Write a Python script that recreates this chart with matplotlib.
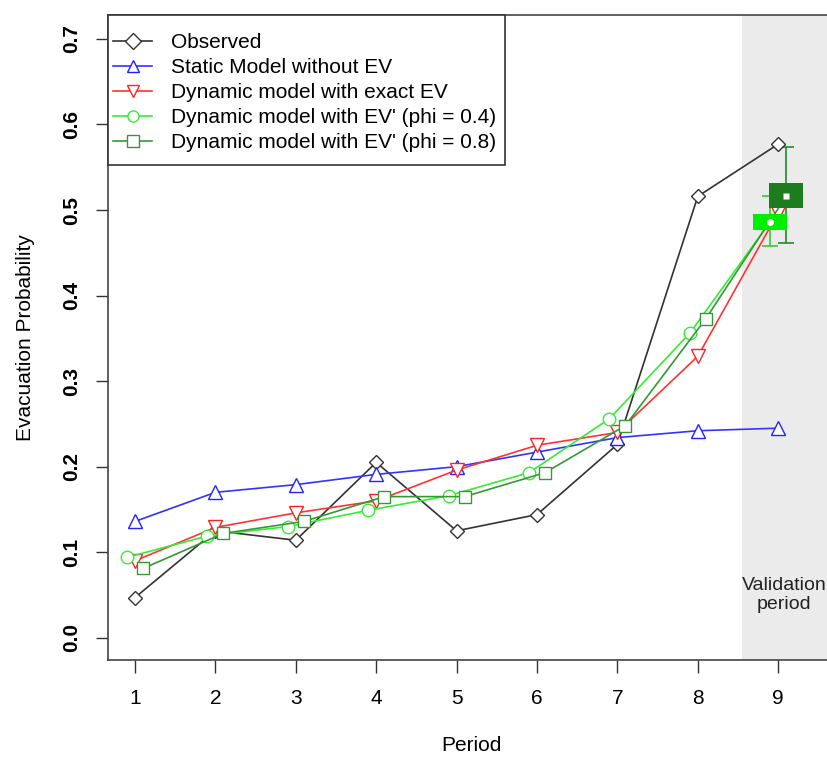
import matplotlib
matplotlib.use("Agg")
import matplotlib.pyplot as plt
from matplotlib.patches import Rectangle
import numpy as np

plt.rcParams['font.family'] = ['Liberation Sans', 'DejaVu Sans']

# data
periods = np.arange(1, 10)
observed = [0.047, 0.125, 0.114, 0.205, 0.125, 0.144, 0.226, 0.516, 0.577]
static_ev = [0.136, 0.170, 0.179, 0.191, 0.200, 0.217, 0.234, 0.242, 0.245]
exact_ev = [0.090, 0.129, 0.146, 0.160, 0.196, 0.225, 0.240, 0.329, 0.497]
phi04 = [0.094, 0.119, 0.130, 0.149, 0.166, 0.193, 0.256, 0.356, 0.486]
phi08 = [0.081, 0.122, 0.136, 0.165, 0.165, 0.193, 0.248, 0.373, 0.516]

# validation period: error bar ends and box ends
phi04_err = (0.458, 0.516)
phi04_box = (0.477, 0.495)
phi08_err = (0.461, 0.574)
phi08_box = (0.502, 0.532)

offset = 0.1
box_w = 0.42

fig = plt.figure(figsize=(8.27, 7.57), dpi=100)
ax = fig.add_axes([108 / 827, 1 - 660 / 757, 1 - 108 / 827 + 0.01, (660 - 15) / 757])

ax.axvspan(8.55, 10, color='#ebebeb', zorder=0, lw=0)

ms = 10
lw = 1.2
ax.plot(periods, observed, color='#333333', lw=lw, marker='D', ms=ms * 0.75, mfc='white', mec='#333333', label='Observed', zorder=3)
ax.plot(periods, static_ev, color='#3333ff', lw=lw, marker='^', ms=ms, mfc='white', mec='#2222ff', label='Static Model without EV', zorder=3)
ax.plot(periods, exact_ev, color='#ff3333', lw=lw, marker='v', ms=ms, mfc='white', mec='#ff2222', label='Dynamic model with exact EV', zorder=3)
ax.plot(periods - offset, phi04, color='#33ee33', lw=lw, marker='o', ms=ms * 0.9, mfc='white', mec='#33ee33', label="Dynamic model with EV' (phi = 0.4)", zorder=3)
ax.plot(periods + offset, phi08, color='#339933', lw=lw, marker='s', ms=ms * 0.8, mfc='white', mec='#339933', label="Dynamic model with EV' (phi = 0.8)", zorder=3)

# validation boxes with error bars
x4 = periods[-1] - offset
x8 = periods[-1] + offset
ax.errorbar([x4], [phi04[-1]], yerr=[[phi04[-1] - phi04_err[0]], [phi04_err[1] - phi04[-1]]],
            fmt='none', ecolor='#33cc33', elinewidth=1.2, capsize=6, capthick=1.2, zorder=2)
ax.errorbar([x8], [phi08[-1]], yerr=[[phi08[-1] - phi08_err[0]], [phi08_err[1] - phi08[-1]]],
            fmt='none', ecolor='#228b22', elinewidth=1.2, capsize=6, capthick=1.2, zorder=2)
ax.add_patch(Rectangle((x4 - box_w / 2, phi04_box[0]), box_w, phi04_box[1] - phi04_box[0],
                       facecolor='#00ee00', edgecolor='none', zorder=4))
ax.add_patch(Rectangle((x8 - box_w / 2, phi08_box[0]), box_w, phi08_box[1] - phi08_box[0],
                       facecolor='#1e7b1e', edgecolor='none', zorder=4))
ax.plot([x4], [phi04[-1]], 'o', ms=5, color='white', mec='none', zorder=5)
ax.plot([x8], [phi08[-1]], 's', ms=5, color='white', mec='none', zorder=5)

ax.text(9.07, 0.05, 'Validation\nperiod', ha='center', va='center', fontsize=14, color='#222222', linespacing=1.2)

ax.set_xlim(0.664, 9.71)
ax.set_ylim(-0.026, 0.728)
ax.set_xticks(periods)
ax.set_yticks(np.arange(0, 0.71, 0.1))
ax.set_yticklabels(['%.1f' % v for v in np.arange(0, 0.71, 0.1)], rotation=90, va='center', fontweight='bold')
ax.tick_params(axis='both', labelsize=15, length=9, width=1, color='#333333', pad=10)
ax.tick_params(axis='x', pad=12)
for s in ['left', 'bottom', 'top']:
    ax.spines[s].set_color('#444444')
    ax.spines[s].set_linewidth(1.2)
ax.spines['right'].set_visible(False)

ax.set_xlabel('Period', fontsize=15, labelpad=20)
ax.set_ylabel('Evacuation Probability', fontsize=15, labelpad=20)

# legend box drawn separately so the padding can differ horizontally / vertically
ax_w_px = ax.get_position().width * 827
ax_h_px = ax.get_position().height * 757
box_h = 150 / ax_h_px
ax.add_patch(Rectangle((0, 1 - box_h), 397 / ax_w_px, box_h, transform=ax.transAxes,
                       facecolor='white', edgecolor='#333333', lw=1.2, zorder=6, clip_on=False))
leg = ax.legend(loc='upper left', bbox_to_anchor=(0, 1 - 13 / ax_h_px), borderaxespad=0, frameon=False,
                fontsize=15, handlelength=1.87, labelspacing=0.29, handletextpad=0.9, borderpad=0.25)
leg.set_zorder(7)
for h in leg.legend_handles:
    h.set_markersize(8)

fig.savefig('out.png', dpi=100)
